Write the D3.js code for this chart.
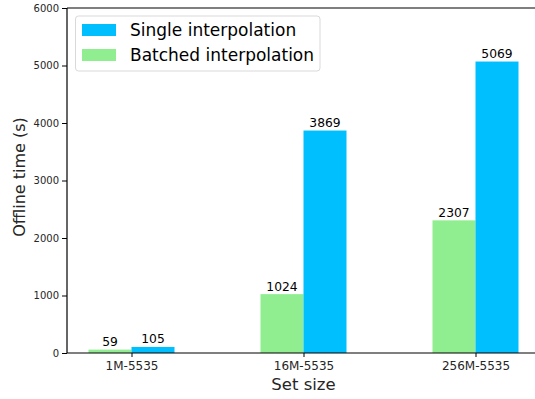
<!DOCTYPE html>
<html>
<head>
<meta charset="UTF-8">
<style>
  body { margin: 0; background: #fff; }
  svg { font-family: "DejaVu Sans", sans-serif; }
</style>
</head>
<body>
<script src="https://d3js.org/d3.v7.min.js"></script>
<script>
// data
const categories = ["1M-5535", "16M-5535", "256M-5535"];
const batched = [59, 1024, 2307];
const single = [105, 3869, 5069];
const seriesNames = ["Single interpolation", "Batched interpolation"];
const colors = {single: "#00bfff", batched: "#90ee90"};
const yTicks = [0, 1000, 2000, 3000, 4000, 5000, 6000];

const W = 535, H = 399;
const mLeft = 67, mTop = 8, mBottom = 353;
const svg = d3.select("body").append("svg").attr("width", W).attr("height", H);

// x in category units, bar width 0.25
const x = d3.scaleLinear().domain([-0.375, 2.375]).range([mLeft, mLeft + 2.75 * 172]);
const y = d3.scaleLinear().domain([0, 6000]).range([mBottom, mTop]);
const bw = 0.25;

const g = svg.append("g");

// bars
g.selectAll("rect.b").data(batched).enter().append("rect")
  .attr("x", (d, i) => x(i - bw)).attr("width", x(bw) - x(0))
  .attr("y", d => y(d)).attr("height", d => y(0) - y(d))
  .attr("fill", colors.batched);
g.selectAll("rect.s").data(single).enter().append("rect")
  .attr("x", (d, i) => x(i)).attr("width", x(bw) - x(0))
  .attr("y", d => y(d)).attr("height", d => y(0) - y(d))
  .attr("fill", colors.single);

// value labels
const vals = batched.map((d, i) => ({v: d, c: i - bw / 2}))
  .concat(single.map((d, i) => ({v: d, c: i + bw / 2})));
g.selectAll("text.v").data(vals).enter().append("text")
  .attr("x", d => x(d.c)).attr("y", d => y(d.v) - 3.5)
  .attr("text-anchor", "middle").attr("font-size", "12.3px").attr("fill", "#000")
  .text(d => d.v);

// spines
svg.append("line").attr("x1", mLeft).attr("x2", mLeft).attr("y1", mTop).attr("y2", mBottom)
  .attr("stroke", "#000").attr("stroke-width", 1.2);
svg.append("line").attr("x1", mLeft).attr("x2", W).attr("y1", mBottom).attr("y2", mBottom)
  .attr("stroke", "#000").attr("stroke-width", 1.2);
svg.append("line").attr("x1", mLeft).attr("x2", W).attr("y1", mTop).attr("y2", mTop)
  .attr("stroke", "#000").attr("stroke-width", 1.2);

// y axis
const yAxis = svg.append("g").attr("transform", `translate(${mLeft},0)`)
  .call(d3.axisLeft(y).tickValues(yTicks).tickSize(5).tickPadding(3).tickFormat(d3.format("d")));
yAxis.select(".domain").remove();
yAxis.attr("font-family", "DejaVu Sans").attr("font-size", 10);
yAxis.selectAll("text").attr("fill", "#262626");
yAxis.selectAll("line").attr("stroke", "#000");

// x axis
const xAxis = svg.append("g").attr("transform", `translate(0,${mBottom})`)
  .call(d3.axisBottom(x).tickValues([0, 1, 2]).tickSize(4).tickPadding(4)
    .tickFormat(i => categories[i]));
xAxis.select(".domain").remove();
xAxis.attr("font-family", "DejaVu Sans").attr("font-size", 12);
xAxis.selectAll("text").attr("fill", "#262626");
xAxis.selectAll("line").attr("stroke", "#000");

// axis labels
svg.append("text").attr("x", x(1)).attr("y", 390).attr("text-anchor", "middle")
  .attr("font-size", "16.5px").attr("fill", "#262626").text("Set size");
svg.append("text").attr("transform", `translate(25,177) rotate(-90)`)
  .attr("text-anchor", "middle").attr("font-size", "16px").attr("fill", "#262626")
  .text("Offline time (s)");

// legend
const lg = svg.append("g");
lg.append("rect").attr("x", 75.5).attr("y", 16).attr("width", 244.5).attr("height", 55)
  .attr("rx", 3).attr("fill", "#fff").attr("fill-opacity", 0.8)
  .attr("stroke", "#d9d9d9");
const legColors = [colors.single, colors.batched];
seriesNames.forEach((name, i) => {
  lg.append("rect").attr("x", 82).attr("y", 24 + i * 25).attr("width", 34).attr("height", 12)
    .attr("fill", legColors[i]);
  lg.append("text").attr("x", 130).attr("y", 36 + i * 25).attr("font-size", "17px")
    .attr("fill", "#000").text(name);
});
</script>
</body>
</html>
